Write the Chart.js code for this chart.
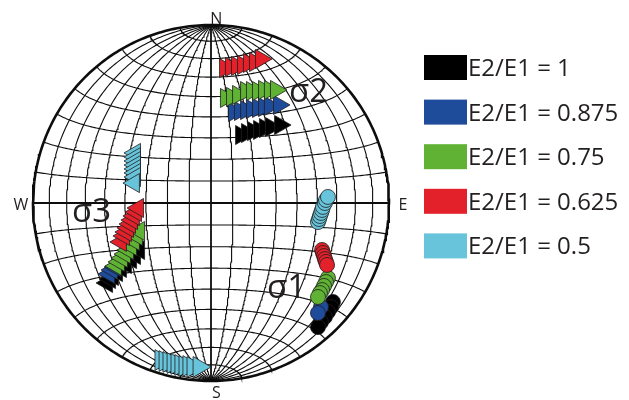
<!DOCTYPE html>
<html lang="en">
<head>
    <meta charset="UTF-8">
    <title>Stereonet - principal stress axes</title>
    <script src="https://cdn.jsdelivr.net/npm/chart.js"></script>
    <style>
        body { margin: 0; background: #fff; }
        canvas { display: block; }
    </style>
</head>
<body>
<canvas id="stereonet" width="629" height="400"></canvas>

<script>
    // series, legend order
    const seriesLabels = ['E2/E1 = 1', 'E2/E1 = 0.875', 'E2/E1 = 0.75', 'E2/E1 = 0.625', 'E2/E1 = 0.5'];
    const seriesColors = ['#000000', '#1f4b9b', '#5fb234', '#e3212a', '#68c4da'];

    // positions on the net, primitive circle radius = 100 (x = east, y = north)
    // sigma1 (circles)
    const sigma1_k1    = [[68.5, -55.6], [67.4, -58.4], [65.7, -61.2], [64.0, -64.0], [61.8, -66.9], [60.1, -69.7]];
    const sigma1_k0875 = [[61.8, -58.4], [60.1, -61.8]];
    const sigma1_k075  = [[65.7, -42.1], [64.6, -44.4], [63.5, -46.6], [62.4, -48.9], [61.2, -50.6], [60.1, -52.8]];
    const sigma1_k0625 = [[62.4, -26.4], [62.9, -28.1], [63.5, -29.8], [64.0, -31.5], [64.6, -33.1], [65.2, -34.8]];
    const sigma1_k05   = [[60.1, -10.7], [60.7, -9.0], [61.2, -7.3], [61.8, -5.6], [62.4, -3.9], [62.9, -2.2], [64.0, 0.0], [64.6, 1.7], [65.7, 3.4]];

    // sigma2 (triangles pointing east)
    const sigma2_k1    = [[16.9, 38.2], [20.2, 39.3], [23.6, 40.4], [27.0, 41.0], [30.3, 42.1], [33.7, 42.7], [38.8, 43.8]];
    const sigma2_k0875 = [[12.9, 51.1], [16.3, 51.7], [19.7, 52.2], [23.0, 52.8], [26.4, 53.4], [29.8, 53.9], [33.1, 54.5], [38.2, 55.1]];
    const sigma2_k075  = [[8.4, 59.0], [11.8, 59.6], [15.2, 60.7], [19.7, 62.9], [23.0, 62.9], [26.4, 62.9], [29.8, 63.5], [33.1, 63.5], [36.5, 63.5]];
    const sigma2_k0625 = [[7.9, 75.8], [11.2, 76.4], [14.6, 77.0], [18.0, 77.5], [21.3, 78.7], [24.7, 79.2], [28.1, 80.9]];
    const sigma2_k05   = [[-28.1, -88.2], [-25.8, -88.8], [-23.6, -89.3], [-21.3, -89.9], [-19.1, -90.4], [-16.9, -91.0], [-14.6, -91.6], [-12.4, -91.6], [-10.1, -92.1], [-6.7, -92.1]];

    // sigma3 (triangles pointing west)
    const sigma3_k1    = [[-58.4, -44.9], [-56.7, -42.7], [-55.1, -41.0], [-52.8, -38.8], [-50.6, -36.5], [-47.8, -34.3], [-44.9, -31.5], [-42.7, -29.2], [-40.4, -26.4]];
    const sigma3_k0875 = [[-57.3, -39.9], [-55.6, -37.6], [-53.9, -36.0]];
    const sigma3_k075  = [[-53.4, -35.4], [-51.7, -33.1], [-50.0, -30.9], [-48.3, -28.7], [-46.6, -26.4], [-44.9, -24.2], [-43.3, -21.3], [-41.6, -18.5], [-40.4, -15.7]];
    const sigma3_k0625 = [[-50.6, -21.9], [-48.9, -18.5], [-47.8, -16.3], [-46.6, -14.0], [-45.5, -11.8], [-44.4, -9.6], [-43.3, -7.3], [-42.1, -5.1], [-41.0, -2.8]];
    const sigma3_k05   = [[-42.7, 28.1], [-42.7, 25.8], [-42.7, 23.6], [-42.7, 21.3], [-42.7, 19.1], [-42.7, 16.9], [-42.7, 14.6], [-43.3, 11.2]];

    const axisLabels = ['σ1', 'σ2', 'σ3'];
    const GRID_STEP = 10; // degrees between net lines

    // equal-area (Schmidt) projection of a net point, lon/lat in degrees
    function project(lon, lat) {
        const l = lon * Math.PI / 180, p = lat * Math.PI / 180;
        const X = Math.cos(p) * Math.sin(l);
        const Y = Math.sin(p);
        const Z = Math.cos(p) * Math.cos(l);
        const s = Math.sqrt(1 / (1 + Z));
        return { x: 100 * X * s, y: 100 * Y * s };
    }

    function gridLine(points, width) {
        return {
            data: points,
            showLine: true,
            pointRadius: 0,
            borderColor: '#0d0d0d',
            borderWidth: width,
            fill: false,
            order: 100
        };
    }

    const gridSets = [];
    for (let lon = -90 + GRID_STEP; lon < 90; lon += GRID_STEP) {
        const pts = [];
        for (let lat = -90; lat <= 90; lat += 1) pts.push(project(lon, lat));
        gridSets.push(gridLine(pts, lon === 0 ? 1.8 : 1.1));
    }
    for (let lat = -90 + GRID_STEP; lat < 90; lat += GRID_STEP) {
        const pts = [];
        for (let lon = -90; lon <= 90; lon += 1) pts.push(project(lon, lat));
        gridSets.push(gridLine(pts, lat === 0 ? 1.8 : 1.1));
    }
    const rim = [];
    for (let a = 0; a <= 360; a += 1) rim.push({ x: 100 * Math.cos(a * Math.PI / 180), y: 100 * Math.sin(a * Math.PI / 180) });
    gridSets.push(gridLine(rim, 2.6));

    const toXY = arr => arr.map(([x, y]) => ({ x, y }));

    function markers(arr, idx, style, rotation, radius) {
        return {
            data: toXY(arr),
            showLine: false,
            pointStyle: style,
            rotation: rotation,
            pointRadius: radius,
            backgroundColor: seriesColors[idx],
            borderColor: '#1e1e1e',
            borderWidth: 0.8,
            order: 10 - idx
        };
    }

    const s1 = [sigma1_k1, sigma1_k0875, sigma1_k075, sigma1_k0625, sigma1_k05];
    const s2 = [sigma2_k1, sigma2_k0875, sigma2_k075, sigma2_k0625, sigma2_k05];
    const s3 = [sigma3_k1, sigma3_k0875, sigma3_k075, sigma3_k0625, sigma3_k05];

    const markerSets = [];
    seriesLabels.forEach((label, i) => {
        markerSets.push(markers(s1[i], i, 'circle', 0, 7.5));
        markerSets.push(markers(s2[i], i, 'triangle', 90, i === 4 ? 12 : 11));
        markerSets.push(markers(s3[i], i, 'triangle', 270, 11));
    });

    const labelPlugin = {
        id: 'netLabels',
        afterDatasetsDraw(chart) {
            const ctx = chart.ctx;
            const xs = chart.scales.x, ys = chart.scales.y;
            const px = v => xs.getPixelForValue(v), py = v => ys.getPixelForValue(v);
            ctx.save();
            ctx.fillStyle = '#231f20';
            ctx.font = '16px "Open Sans", sans-serif';
            ctx.textAlign = 'center';
            ctx.textBaseline = 'alphabetic';
            ctx.fillText('N', px(3), py(100) - 1);
            ctx.fillText('S', px(3), py(-100) + 17);
            ctx.fillText('W', px(-100) - 12, py(0) + 7);
            ctx.fillText('E', px(100) + 14, py(0) + 7);

            ctx.font = '33px "Open Sans", sans-serif';
            ctx.textAlign = 'left';
            ctx.fillText(axisLabels[0], 267, 298);
            ctx.fillText(axisLabels[1], 289, 102);
            ctx.fillText(axisLabels[2], 72, 222);

            // legend
            ctx.font = '24px "Open Sans", sans-serif';
            seriesLabels.forEach((label, i) => {
                const top = 55 + i * 44.6;
                ctx.fillStyle = seriesColors[i];
                ctx.fillRect(424, top, 43, 25);
                ctx.fillStyle = '#231f20';
                ctx.fillText(label, 468, top + 21);
            });
            ctx.restore();
        }
    };

    new Chart(document.getElementById('stereonet').getContext('2d'), {
        type: 'scatter',
        data: { datasets: gridSets.concat(markerSets) },
        options: {
            responsive: false,
            animation: false,
            events: [],
            layout: { padding: 0, autoPadding: false },
            plugins: { legend: { display: false }, tooltip: { enabled: false } },
            scales: {
                x: { type: 'linear', display: false, min: -211 / 1.78, max: 418 / 1.78 },
                y: { type: 'linear', display: false, min: -197 / 1.78, max: 203 / 1.78 }
            }
        },
        plugins: [labelPlugin]
    });
</script>
</body>
</html>
